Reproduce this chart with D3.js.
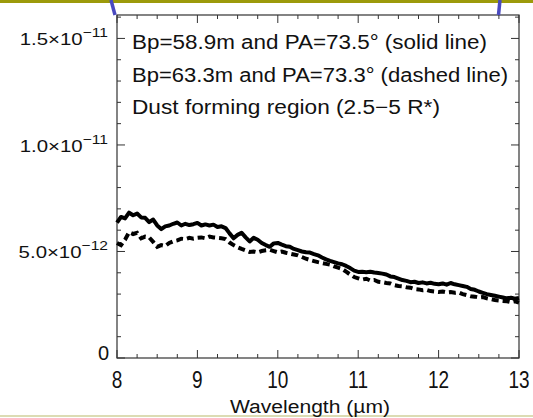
<!DOCTYPE html>
<html>
<head>
<meta charset="utf-8">
<script src="https://cdn.jsdelivr.net/npm/d3@7"></script>
<style>
  html, body { margin: 0; padding: 0; background: #fff; }
  svg { display: block; }
  text { font-family: "Liberation Sans", Arial, sans-serif; fill: #111; }
</style>
</head>
<body>
<svg id="chart" width="533" height="418"></svg>
<script>
// Wavelength grid (µm), 0.05 µm spacing
const wavelength = d3.range(0, 101).map(i => +(8 + i * 0.05).toFixed(2));

// Correlated flux, units of 1e-12
const fluxSolid = [
  6.35, 6.62, 6.55, 6.82, 6.70, 6.78, 6.60, 6.58, 6.38, 6.50,
  6.22, 6.05, 6.18, 6.22, 6.30, 6.36, 6.22, 6.30, 6.24, 6.28,
  6.34, 6.22, 6.27, 6.22, 6.26, 6.15, 6.18, 6.10, 5.85, 5.62,
  5.78, 5.88, 5.66, 5.47, 5.64, 5.55, 5.40, 5.30, 5.22, 5.38,
  5.40, 5.32, 5.25, 5.22, 5.12, 5.06, 5.00, 4.96, 4.95, 4.88,
  4.82, 4.72, 4.63, 4.56, 4.50, 4.44, 4.40, 4.32, 4.22, 4.10,
  4.04, 4.05, 4.03, 4.05, 4.01, 3.99, 3.96, 3.92, 3.83, 3.80,
  3.73, 3.66, 3.62, 3.56, 3.58, 3.52, 3.55, 3.50, 3.53, 3.48,
  3.46, 3.50, 3.44, 3.52, 3.46, 3.42, 3.38, 3.34, 3.24, 3.20,
  3.12, 3.06, 3.00, 2.96, 2.92, 2.88, 2.84, 2.80, 2.83, 2.78,
  2.82
];
const fluxDashed = [
  5.40, 5.30, 5.55, 5.90, 5.82, 5.88, 5.62, 5.70, 5.66, 5.45,
  5.22, 5.30, 5.26, 5.40, 5.48, 5.52, 5.60, 5.58, 5.64, 5.60,
  5.64, 5.66, 5.62, 5.70, 5.66, 5.64, 5.62, 5.58, 5.42, 5.30,
  5.20, 5.12, 5.05, 4.98, 5.00, 4.96, 5.02, 5.06, 5.08, 5.02,
  4.96, 5.00, 4.94, 4.90, 4.86, 4.82, 4.74, 4.66, 4.60, 4.55,
  4.50, 4.46, 4.42, 4.38, 4.30, 4.24, 4.18, 4.05, 3.92, 3.80,
  3.74, 3.68, 3.72, 3.64, 3.66, 3.58, 3.56, 3.52, 3.50, 3.42,
  3.38, 3.36, 3.32, 3.30, 3.24, 3.22, 3.18, 3.20, 3.14, 3.12,
  3.10, 3.12, 3.08, 3.10, 3.06, 3.08, 3.00, 2.95, 2.90, 2.88,
  2.84, 2.86, 2.80, 2.76, 2.72, 2.70, 2.68, 2.66, 2.62, 2.66,
  2.60
];

const xTicks = [8, 9, 10, 11, 12, 13];
const yTicks = [0, 5e-12, 1e-11, 1.5e-11];
const yTickMant = ["0", "5.0", "1.0", "1.5"];
const yTickExp = ["", "\u221212", "\u221211", "\u221211"];
const legendLines = [
  "Bp=58.9m and PA=73.5\u00b0 (solid line)",
  "Bp=63.3m and PA=73.3\u00b0 (dashed line)",
  "Dust forming region (2.5\u22125 R*)"
];

const svg = d3.select("#chart");
const L = 117, R = 519, T = 15, B = 358;

// Slide decorations
svg.append("rect").attr("x", 0).attr("y", 0).attr("width", 533).attr("height", 3).attr("fill", "#9c9a0a");
svg.append("line").attr("x1", 0).attr("x2", 533).attr("y1", 416).attr("y2", 416)
  .attr("stroke", "#dcdcb4").attr("stroke-width", 2);

const x = d3.scaleLinear().domain([8, 13]).range([L, R]);
const y = d3.scaleLinear().domain([0, 1.61e-11]).range([B, T]);

const g = svg.append("g");

// Frame ticks pointing inward on all four sides
const xMinor = d3.range(8, 13.001, 0.25);
const yMinor = d3.range(0, 16.5e-12, 1e-12);
const isMajX = v => Math.abs(v - Math.round(v)) < 1e-6;
const isMajY = v => Math.abs((v / 5e-12) - Math.round(v / 5e-12)) < 1e-6;

xMinor.forEach(v => {
  const len = isMajX(v) ? 8 : 4;
  g.append("line").attr("x1", x(v)).attr("x2", x(v)).attr("y1", B).attr("y2", B - len)
    .attr("stroke", "#333").attr("stroke-width", 1);
  g.append("line").attr("x1", x(v)).attr("x2", x(v)).attr("y1", T).attr("y2", T + len)
    .attr("stroke", "#333").attr("stroke-width", 1);
});
yMinor.forEach(v => {
  const len = isMajY(v) ? 8 : 4;
  g.append("line").attr("x1", L).attr("x2", L + len).attr("y1", y(v)).attr("y2", y(v))
    .attr("stroke", "#333").attr("stroke-width", 1);
  g.append("line").attr("x1", R).attr("x2", R - len).attr("y1", y(v)).attr("y2", y(v))
    .attr("stroke", "#333").attr("stroke-width", 1);
});

// Frame
g.append("rect").attr("x", L).attr("y", T).attr("width", R - L).attr("height", B - T)
  .attr("fill", "none").attr("stroke", "#333").attr("stroke-width", 1.2);

// Spectra
const line = d3.line().x((d, i) => x(wavelength[i])).y(d => y(d * 1e-12));
g.append("path").datum(fluxSolid).attr("d", line)
  .attr("fill", "none").attr("stroke", "#000").attr("stroke-width", 4).attr("stroke-linejoin", "round");
g.append("path").datum(fluxDashed).attr("d", line)
  .attr("fill", "none").attr("stroke", "#000").attr("stroke-width", 4)
  .attr("stroke-dasharray", "7,4");

// Blue slide strokes crossing the top
svg.append("line").attr("x1", 111).attr("y1", 0).attr("x2", 115).attr("y2", 15)
  .attr("stroke", "#4a4ac0").attr("stroke-width", 3.5);
svg.append("line").attr("x1", 500).attr("y1", 0).attr("x2", 498.5).attr("y2", 15)
  .attr("stroke", "#4a4ac0").attr("stroke-width", 3.5);

// X tick labels
xTicks.forEach(v => {
  svg.append("text")
    .attr("transform", `translate(${x(v)},388) scale(1,1.3)`)
    .attr("text-anchor", "middle").attr("font-size", 19).text(v);
});

// Y tick labels
yTicks.forEach((v, i) => {
  if (v === 0) {
    svg.append("text").attr("x", 109).attr("y", y(v) + 2).attr("text-anchor", "end")
      .attr("font-size", 20).text(yTickMant[i]);
    return;
  }
  const t = svg.append("text")
    .attr("transform", `translate(108,${y(v) + 7}) scale(1.2,1)`)
    .attr("text-anchor", "end").attr("font-size", 17);
  t.append("tspan").text(yTickMant[i] + "\u00d710");
  t.append("tspan").attr("font-size", 13).attr("dy", -8).text(yTickExp[i]);
});

// Axis title
svg.append("text").attr("x", 230).attr("y", 413).attr("font-size", 18)
  .attr("textLength", 160).attr("lengthAdjust", "spacingAndGlyphs")
  .text("Wavelength (\u00b5m)");

// Annotation lines
const legendEnds = [487, 508, 440];
legendLines.forEach((s, i) => {
  svg.append("text").attr("x", 132).attr("y", 49 + i * 32.5).attr("font-size", 20)
    .attr("textLength", legendEnds[i] - 132).attr("lengthAdjust", "spacingAndGlyphs")
    .text(s);
});
</script>
</body>
</html>
